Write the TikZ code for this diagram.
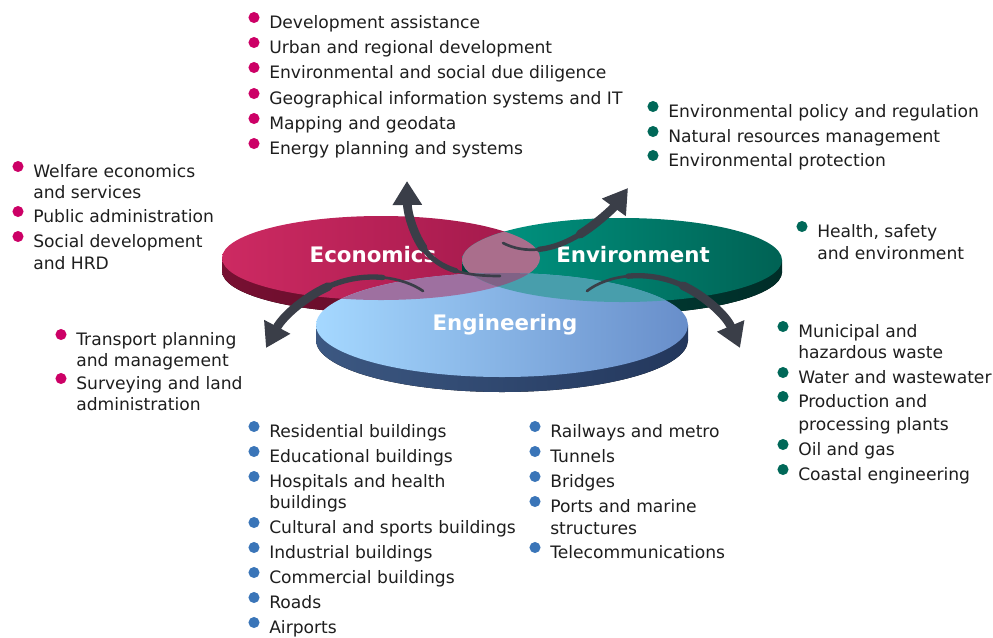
\documentclass[tikz,border=0pt]{standalone}
\usepackage{fontspec}
\setmainfont{DejaVu Sans}
\usetikzlibrary{arrows.meta,calc}
\definecolor{txt}{RGB}{30,30,30}
\definecolor{crim}{RGB}{204,0,102}
\definecolor{teal}{RGB}{0,104,88}
\definecolor{blu}{RGB}{58,117,184}
\definecolor{econL}{RGB}{205,42,98}
\definecolor{econR}{RGB}{160,24,74}
\definecolor{econRimL}{RGB}{120,16,50}
\definecolor{econRimR}{RGB}{80,10,34}
\definecolor{envL}{RGB}{0,152,132}
\definecolor{envR}{RGB}{0,98,84}
\definecolor{envRimL}{RGB}{0,70,60}
\definecolor{envRimR}{RGB}{0,45,40}
\definecolor{engL}{RGB}{165,216,255}
\definecolor{engR}{RGB}{104,142,202}
\definecolor{engRimL}{RGB}{60,88,130}
\definecolor{engRimR}{RGB}{35,55,92}
\definecolor{lensc}{RGB}{170,110,140}
\definecolor{econeng}{RGB}{158,112,160}
\definecolor{enveng}{RGB}{72,158,172}
\definecolor{lenseng}{RGB}{128,98,134}
\definecolor{arrc}{RGB}{58,62,72}
\tikzset{
  itm/.style={anchor=base west, inner sep=0pt, text=txt, font=\fontsize{12.85}{15}\selectfont},
  dotc/.style={circle, inner sep=0pt, minimum size=8.3pt},
  biglbl/.style={anchor=base, inner sep=0pt, text=white, font=\fontsize{16}{19}\selectfont\bfseries},
  arrbody/.style={draw=arrc, line cap=round},
}
\newcommand\bitem[5]{%
  \node[dotc, fill=#2] (#1d) at ({#3-15},{#4-10.5}) {};
  \node[itm] (#1) at (#3,#4) {#5};
}
\newcommand\citem[4]{%
  \node[itm] (#1) at (#2,#3) {#4};
}
\newcommand\splitbez[6]{%
  \coordinate (#6q0) at ($(#1)!#5!(#2)$);
  \coordinate (#6q1) at ($(#2)!#5!(#3)$);
  \coordinate (#6q2) at ($(#3)!#5!(#4)$);
  \coordinate (#6r0) at ($(#6q0)!#5!(#6q1)$);
  \coordinate (#6r1) at ($(#6q1)!#5!(#6q2)$);
  \coordinate (#6s) at ($(#6r0)!#5!(#6r1)$);
}
\newcommand\bigarrow[5]{%
  \coordinate (#1p0) at #2;
  \coordinate (#1c1) at #3;
  \coordinate (#1c2) at #4;
  \coordinate (#1p3) at #5;
  \splitbez{#1p0}{#1c1}{#1c2}{#1p3}{0.3}{#1a}
  \splitbez{#1as}{#1ar1}{#1aq2}{#1p3}{0.45}{#1b}
  \draw[arrbody, line width=2pt] (#1p0) .. controls (#1aq0) and (#1ar0) .. (#1as);
  \draw[arrbody, line width=4pt] (#1as) .. controls (#1bq0) and (#1br0) .. (#1bs);
  \draw[arrbody, line width=6.5pt, -{Triangle[width=21pt,length=18pt]}] (#1bs) .. controls (#1br1) and (#1bq2) .. (#1p3);
}
\begin{document}
\begin{tikzpicture}[x=0.75pt,y=-0.75pt]
\useasboundingbox (0,0) rectangle (993,637);

% ---------- Economics disk
\fill[left color=econRimL, right color=econRimR] (381,271) ellipse [x radius=159, y radius=42];
\fill[left color=econRimL, right color=econRimR] (222,258) rectangle (540,271);
\shade[left color=econL, right color=econR] (381,258) ellipse [x radius=159, y radius=42];
% ---------- Environment disk
\fill[left color=envRimL, right color=envRimR] (622,272) ellipse [x radius=160, y radius=42];
\fill[left color=envRimL, right color=envRimR] (462,260) rectangle (782,272);
\shade[left color=envL, right color=envR] (622,260) ellipse [x radius=160, y radius=42];
% lens
\begin{scope}
  \clip (381,258) ellipse [x radius=159, y radius=42];
  \fill[lensc] (622,260) ellipse [x radius=160, y radius=42];
\end{scope}
% ---------- Engineering disk
\fill[left color=engRimL, right color=engRimR] (502,340) ellipse [x radius=186, y radius=52];
\fill[left color=engRimL, right color=engRimR] (316,325) rectangle (688,340);
\shade[left color=engL, right color=engR] (502,325) ellipse [x radius=186, y radius=52];
\begin{scope}
  \clip (502,325) ellipse [x radius=186, y radius=52];
  \fill[econeng] (381,258) ellipse [x radius=159, y radius=42];
  \fill[enveng] (622,260) ellipse [x radius=160, y radius=42];
  \clip (381,258) ellipse [x radius=159, y radius=42];
  \fill[lenseng] (622,260) ellipse [x radius=160, y radius=42];
\end{scope}

% ---------- labels
\node[biglbl] (econ) at (373,262) {Economics};
\node[biglbl] (env) at (633,262) {Environment};
\node[biglbl] (eng) at (505,330) {Engineering};

% ---------- arrows
\bigarrow{au}{(500,276)}{(445,276)}{(408,262)}{(407,181)}
\bigarrow{ar}{(503,243)}{(540,262)}{(590,240)}{(628,188)}
\bigarrow{al}{(423,291)}{(390,268)}{(310,265)}{(266,348)}
\bigarrow{ad}{(587,291)}{(620,265)}{(705,265)}{(740,348)}

% ---------- top crimson list
\bitem{t1}{crim}{269}{28}{Development assistance}
\bitem{t2}{crim}{269}{53}{Urban and regional development}
\bitem{t3}{crim}{269}{78}{Environmental and social due diligence}
\bitem{t4}{crim}{269}{104}{Geographical information systems and IT}
\bitem{t5}{crim}{269}{129}{Mapping and geodata}
\bitem{t6}{crim}{269}{154}{Energy planning and systems}

% ---------- top teal list
\bitem{e1}{teal}{668}{117}{Environmental policy and regulation}
\bitem{e2}{teal}{668}{142}{Natural resources management}
\bitem{e3}{teal}{668}{166}{Environmental protection}

% ---------- left crimson list
\bitem{l1}{crim}{33}{177}{Welfare economics}
\citem{l1b}{33}{198}{and services}
\bitem{l2}{crim}{33}{222}{Public administration}
\bitem{l3}{crim}{33}{247}{Social development}
\citem{l3b}{33}{269}{and HRD}

% ---------- health
\bitem{h1}{teal}{817}{237}{Health, safety}
\citem{h1b}{817}{259}{and environment}

% ---------- lower-left crimson list
\bitem{m1}{crim}{76}{345}{Transport planning}
\citem{m1b}{76}{366}{and management}
\bitem{m2}{crim}{76}{389}{Surveying and land}
\citem{m2b}{76}{410}{administration}

% ---------- right teal list
\bitem{r1}{teal}{798}{337}{Municipal and}
\citem{r1b}{798}{358}{hazardous waste}
\bitem{r2}{teal}{798}{383}{Water and wastewater}
\bitem{r3}{teal}{798}{407}{Production and}
\citem{r3b}{798}{430}{processing plants}
\bitem{r4}{teal}{798}{455}{Oil and gas}
\bitem{r5}{teal}{798}{480}{Coastal engineering}

% ---------- bottom blue lists
\bitem{b1}{blu}{269}{437}{Residential buildings}
\bitem{b2}{blu}{269}{462}{Educational buildings}
\bitem{b3}{blu}{269}{487}{Hospitals and health}
\citem{b3b}{269}{508}{buildings}
\bitem{b4}{blu}{269}{533}{Cultural and sports buildings}
\bitem{b5}{blu}{269}{558}{Industrial buildings}
\bitem{b6}{blu}{269}{583}{Commercial buildings}
\bitem{b7}{blu}{269}{608}{Roads}
\bitem{b8}{blu}{269}{633}{Airports}

\bitem{c1}{blu}{550}{437}{Railways and metro}
\bitem{c2}{blu}{550}{462}{Tunnels}
\bitem{c3}{blu}{550}{487}{Bridges}
\bitem{c4}{blu}{550}{512}{Ports and marine}
\citem{c4b}{550}{534}{structures}
\bitem{c5}{blu}{550}{558}{Telecommunications}
\end{tikzpicture}
\end{document}
